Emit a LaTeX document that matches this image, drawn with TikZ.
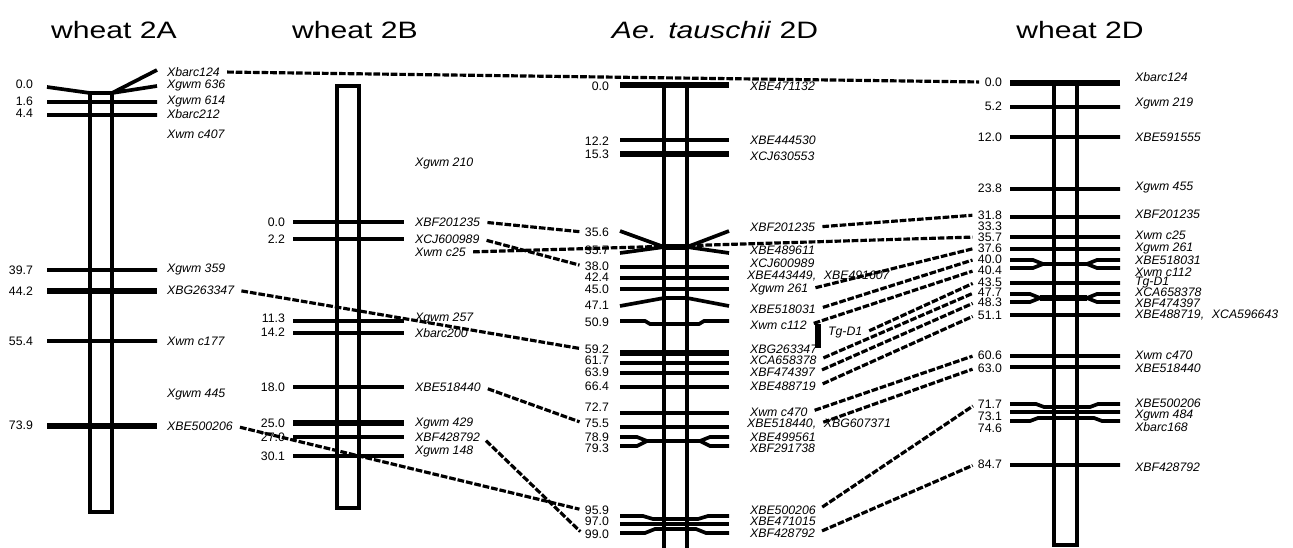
\documentclass[tikz,border=0pt]{standalone}
\usepackage{fontspec}
\setmainfont{Liberation Sans}
\newfontfamily\mapfont{Liberation Sans}
\newfontfamily\ttlfont[FakeStretch=1.27]{Liberation Sans}
\usetikzlibrary{positioning}

\begin{document}
\begin{tikzpicture}[
    x=0.02cm, y=-0.02cm,
    bar/.style={line width=2.1pt},
    fatbar/.style={line width=3pt},
    chrom/.style={line width=2pt},
    maplink/.style={line width=1.8pt, dash pattern=on 3.8pt off 1.1pt,
                 shorten <=3pt, shorten >=2pt},
    cmpos/.style={font=\mapfont\fontsize{7}{8}\selectfont, anchor=east, inner sep=1pt},
    mrk/.style={font=\mapfont\itshape\fontsize{7}{8}\selectfont, anchor=west, inner sep=1pt},
    ttl/.style={font=\ttlfont\fontsize{13.5}{16}\selectfont, inner sep=0pt}
  ]
  \useasboundingbox (0,0) rectangle (1293,547);

  % wheat 2A
  \node[ttl] (t2a) at (114,30) {wheat 2A};
  \draw[chrom] (90,93) rectangle (112,512);
  \draw[bar] (47,87) -- (90,93) -- (112,93) -- (157,70) (112,93) -- (157,86)
    (47,102) -- (157,102) (47,115) -- (157,115) (47,270) -- (157,270) (47,341) -- (157,341);
  \draw[fatbar] (47,291) -- (157,291) (47,426) -- (157,426);
  \node[cmpos] (a00) at (35,84) {0.0};
  \node[cmpos] (a16) at (35,101) {1.6};
  \node[cmpos] (a44) at (35,113) {4.4};
  \node[cmpos] (a397) at (35,270) {39.7};
  \node[cmpos] (a442) at (35,291) {44.2};
  \node[cmpos] (a554) at (35,341) {55.4};
  \node[cmpos] (a739) at (35,425) {73.9};
  \node[mrk] (a-barc124) at (165,72) {Xbarc124};
  \node[mrk] (a-gwm636) at (165,85) {Xgwm 636};
  \node[mrk] (a-gwm614) at (165,101) {Xgwm 614};
  \node[mrk] (a-barc212) at (165,114) {Xbarc212};
  \node[mrk] (a-wmc407) at (165,134) {Xwm c407};
  \node[mrk] (a-gwm359) at (165,269) {Xgwm 359};
  \node[mrk] (a-bg263347) at (165,290) {XBG263347};
  \node[mrk] (a-wmc177) at (165,341) {Xwm c177};
  \node[mrk] (a-gwm445) at (165,395) {Xgwm 445};
  \node[mrk] (a-be500206) at (165,426) {XBE500206};

  % wheat 2B
  \node[ttl] (t2b) at (355,30) {wheat 2B};
  \draw[chrom] (337,86) rectangle (359,508);
  \draw[bar] (293,222) -- (404,222) (293,239) -- (404,239) (293,321) -- (404,321)
    (293,333) -- (404,333) (293,387) -- (404,387) (293,437) -- (404,437) (293,456) -- (404,456);
  \draw[fatbar] (293,423) -- (404,423);
  \node[cmpos] (b00) at (287,222) {0.0};
  \node[cmpos] (b22) at (287,239) {2.2};
  \node[cmpos] (b113) at (287,318) {11.3};
  \node[cmpos] (b142) at (287,332) {14.2};
  \node[cmpos] (b180) at (287,387) {18.0};
  \node[cmpos] (b250) at (287,423) {25.0};
  \node[cmpos] (b270) at (287,437) {27.0};
  \node[cmpos] (b301) at (287,456) {30.1};
  \node[mrk] (b-gwm210) at (413,163) {Xgwm 210};
  \node[mrk] (b-bf201235) at (413,222) {XBF201235};
  \node[mrk] (b-cj600989) at (413,239) {XCJ600989};
  \node[mrk] (b-wmc25) at (413,252) {Xwm c25};
  \node[mrk] (b-gwm257) at (413,318) {Xgwm 257};
  \node[mrk] (b-barc200) at (413,333) {Xbarc200};
  \node[mrk] (b-be518440) at (413,387) {XBE518440};
  \node[mrk] (b-gwm429) at (413,423) {Xgwm 429};
  \node[mrk] (b-bf428792) at (413,437) {XBF428792};
  \node[mrk] (b-gwm148) at (413,451) {Xgwm 148};

  % Ae. tauschii 2D
  \node[ttl] (tae) at (715,30) {\textit{Ae. tauschii} 2D};
  \draw[chrom] (664,549) -- (664,85) -- (687,85) -- (687,549);
  \draw[bar] (620,140) -- (729,140) (620,267) -- (729,267) (620,278) -- (729,278)
    (620,289) -- (729,289) (620,363) -- (729,363) (620,373) -- (729,373)
    (620,387) -- (729,387) (620,413) -- (729,413) (620,427) -- (729,427) (620,524) -- (729,524);
  \draw[fatbar] (620,85) -- (729,85) (620,154) -- (729,154) (620,353) -- (729,353);
  \draw[bar] (620,231) -- (664,247) (620,253) -- (664,247) (687,247) -- (729,231) (687,247) -- (729,253)
    (620,306) -- (664,298) -- (687,298) -- (729,306)
    (620,321) -- (645,321) -- (650,324) -- (699,324) -- (704,321) -- (729,321)
    (620,437) -- (637,437) -- (647,441) -- (700,441) -- (710,437) -- (729,437)
    (620,446) -- (637,446) -- (647,441) (700,441) -- (710,446) -- (729,446)
    (620,516) -- (643,516) -- (653,519) -- (698,519) -- (708,516) -- (729,516)
    (620,533) -- (645,533) -- (655,529) -- (696,529) -- (706,533) -- (729,533);
  \draw[fatbar] (664,247) -- (687,247);
  \draw[line width=3.2pt] (818,324) -- (818,348);
  \coordinate (knot) at (676,246);
  \node[cmpos] (e00) at (611,86) {0.0};
  \node[cmpos] (e122) at (611,141) {12.2};
  \node[cmpos] (e153) at (611,154) {15.3};
  \node[cmpos] (e356) at (611,232) {35.6};
  \node[cmpos] (e357) at (611,250) {35.7};
  \node[cmpos] (e380) at (611,266) {38.0};
  \node[cmpos] (e424) at (611,277) {42.4};
  \node[cmpos] (e450) at (611,289) {45.0};
  \node[cmpos] (e471) at (611,305) {47.1};
  \node[cmpos] (e509) at (611,322) {50.9};
  \node[cmpos] (e592) at (611,349) {59.2};
  \node[cmpos] (e617) at (611,360) {61.7};
  \node[cmpos] (e639) at (611,372) {63.9};
  \node[cmpos] (e664) at (611,386) {66.4};
  \node[cmpos] (e727) at (611,407) {72.7};
  \node[cmpos] (e755) at (611,423) {75.5};
  \node[cmpos] (e789) at (611,437) {78.9};
  \node[cmpos] (e793) at (611,448) {79.3};
  \node[cmpos] (e959) at (611,510) {95.9};
  \node[cmpos] (e970) at (611,521) {97.0};
  \node[cmpos] (e990) at (611,534) {99.0};
  \node[mrk] (e-be471132) at (748,86) {XBE471132};
  \node[mrk] (e-be444530) at (748,140) {XBE444530};
  \node[mrk] (e-cj630553) at (748,156) {XCJ630553};
  \node[mrk] (e-bf201235) at (748,227) {XBF201235};
  \node[mrk] (e-be489611) at (748,250) {XBE489611};
  \node[mrk] (e-cj600989) at (748,263) {XCJ600989};
  \node[mrk] (e-be443449) at (745,276) {XBE443449,};
  \node[mrk, base right=2pt of e-be443449] (e-be491607) {XBE491607};
  \node[mrk] (e-gwm261) at (748,289) {Xgwm 261};
  \node[mrk] (e-be518031) at (748,309) {XBE518031};
  \node[mrk] (e-wmc112) at (748,325) {Xwm c112};
  \node[mrk] (e-tgd1) at (826,333) {Tg-D1};
  \node[mrk] (e-bg263347) at (748,349) {XBG263347};
  \node[mrk] (e-ca658378) at (748,360) {XCA658378};
  \node[mrk] (e-bf474397) at (748,372) {XBF474397};
  \node[mrk] (e-be488719) at (748,386) {XBE488719};
  \node[mrk] (e-wmc470) at (748,412) {Xwm c470};
  \node[mrk] (e-be518440) at (745,424) {XBE518440,};
  \node[mrk, base right=2pt of e-be518440] (e-bg607371) {XBG607371};
  \node[mrk] (e-be499561) at (748,437) {XBE499561};
  \node[mrk] (e-bf291738) at (748,448) {XBF291738};
  \node[mrk] (e-be500206) at (748,510) {XBE500206};
  \node[mrk] (e-be471015) at (748,521) {XBE471015};
  \node[mrk] (e-bf428792) at (748,533) {XBF428792};

  % wheat 2D
  \node[ttl] (t2d) at (1080,30) {wheat 2D};
  \draw[chrom] (1054,83) rectangle (1077,545);
  \draw[bar] (1010,107) -- (1120,107) (1010,137) -- (1120,137) (1010,189) -- (1120,189)
    (1010,217) -- (1120,217) (1010,237) -- (1120,237)
    (1010,249) -- (1120,249) (1010,283) -- (1120,283) (1010,315) -- (1120,315)
    (1010,356) -- (1120,356) (1010,367) -- (1120,367) (1010,412) -- (1120,412) (1010,465) -- (1120,465)
    (1010,260) -- (1033,260) -- (1043,264) -- (1087,264) -- (1097,260) -- (1120,260)
    (1010,268) -- (1033,268) -- (1043,264) (1087,264) -- (1097,268) -- (1120,268)
    (1010,294) -- (1030,294) -- (1040,298) -- (1087,298) -- (1097,294) -- (1120,294)
    (1010,302) -- (1030,302) -- (1040,298) (1087,298) -- (1097,302) -- (1120,302)
    (1010,404) -- (1036,404) -- (1044,407) -- (1090,407) -- (1098,404) -- (1120,404)
    (1010,421) -- (1030,421) -- (1038,418) -- (1094,418) -- (1102,421) -- (1120,421);
  \draw[fatbar] (1010,83) -- (1120,83);
  \draw[line width=3.4pt] (1040,298) -- (1087,298);
  \node[cmpos] (d00) at (1004,82) {0.0};
  \node[cmpos] (d52) at (1004,106) {5.2};
  \node[cmpos] (d120) at (1004,137) {12.0};
  \node[cmpos] (d238) at (1004,188) {23.8};
  \node[cmpos] (d318) at (1004,215) {31.8};
  \node[cmpos] (d333) at (1004,226) {33.3};
  \node[cmpos] (d357) at (1004,237) {35.7};
  \node[cmpos] (d376) at (1004,248) {37.6};
  \node[cmpos] (d400) at (1004,259) {40.0};
  \node[cmpos] (d404) at (1004,270) {40.4};
  \node[cmpos] (d435) at (1004,282) {43.5};
  \node[cmpos] (d477) at (1004,292) {47.7};
  \node[cmpos] (d483) at (1004,302) {48.3};
  \node[cmpos] (d511) at (1004,315) {51.1};
  \node[cmpos] (d606) at (1004,355) {60.6};
  \node[cmpos] (d630) at (1004,368) {63.0};
  \node[cmpos] (d717) at (1004,404) {71.7};
  \node[cmpos] (d731) at (1004,416) {73.1};
  \node[cmpos] (d746) at (1004,428) {74.6};
  \node[cmpos] (d847) at (1004,464) {84.7};
  \node[mrk] (d-barc124) at (1133,77) {Xbarc124};
  \node[mrk] (d-gwm219) at (1133,103) {Xgwm 219};
  \node[mrk] (d-be591555) at (1133,137) {XBE591555};
  \node[mrk] (d-gwm455) at (1133,188) {Xgwm 455};
  \node[mrk] (d-bf201235) at (1133,214) {XBF201235};
  \node[mrk] (d-wmc25) at (1133,235) {Xwm c25};
  \node[mrk] (d-gwm261) at (1133,248) {Xgwm 261};
  \node[mrk] (d-be518031) at (1133,260) {XBE518031};
  \node[mrk] (d-wmc112) at (1133,272) {Xwm c112};
  \node[mrk] (d-tgd1) at (1133,283) {Tg-D1};
  \node[mrk] (d-ca658378) at (1133,292) {XCA658378};
  \node[mrk] (d-bf474397) at (1133,303) {XBF474397};
  \node[mrk] (d-be488719) at (1133,315) {XBE488719,};
  \node[mrk, base right=2pt of d-be488719] (d-ca596643) {XCA596643};
  \node[mrk] (d-wmc470) at (1133,355) {Xwm c470};
  \node[mrk] (d-be518440) at (1133,368) {XBE518440};
  \node[mrk] (d-be500206) at (1133,403) {XBE500206};
  \node[mrk] (d-gwm484) at (1133,415) {Xgwm 484};
  \node[mrk] (d-barc168) at (1133,427) {Xbarc168};
  \node[mrk] (d-bf428792) at (1133,467) {XBF428792};

  % links between maps
  \draw[maplink] (a-barc124.east) -- (d00.west);
  \draw[maplink] (a-bg263347.east) -- (e592.west);
  \draw[maplink] (a-be500206.east) -- (e959.west);
  \draw[maplink] (b-bf201235.east) -- (e356.west);
  \draw[maplink] (b-cj600989.east) -- (e380.west);
  \draw[maplink] (b-wmc25.east) -- (knot) -- (d357.west);
  \draw[maplink] (b-be518440.east) -- (e755.west);
  \draw[maplink] (b-bf428792.east) -- (e990.west);
  \draw[maplink] (e-bf201235.east) -- (d318.west);
  \draw[maplink] (e-gwm261.east) -- (d376.west);
  \draw[maplink] (e-be518031.east) -- (d400.west);
  \draw[maplink] (e-wmc112.east) -- (d404.west);
  \draw[maplink] (e-tgd1.east) -- (d435.west);
  \draw[maplink] (e-ca658378.east) -- (d477.west);
  \draw[maplink] (e-bf474397.east) -- (d483.west);
  \draw[maplink] (e-be488719.east) -- (d511.west);
  \draw[maplink] (e-wmc470.east) -- (d606.west);
  \draw[maplink] (e-be518440.east) -- (d630.west);
  \draw[maplink] (e-be500206.east) -- (d717.west);
  \draw[maplink] (e-bf428792.east) -- (d847.west);

\end{tikzpicture}
\end{document}
